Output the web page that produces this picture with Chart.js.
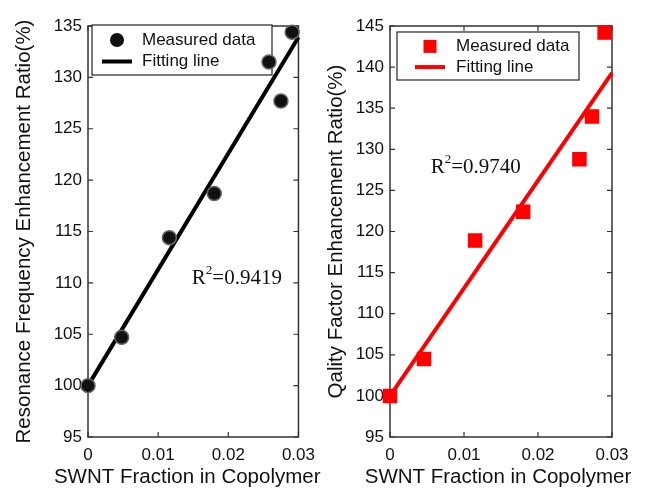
<!DOCTYPE html>
<html>
<head>
<meta charset="utf-8">
<script src="https://cdn.jsdelivr.net/npm/chart.js@4.4.0/dist/chart.umd.min.js"></script>
<style>
    html, body { margin: 0; padding: 0; background: #fff; width: 646px; height: 491px; overflow: hidden; }
    .panel { position: absolute; top: 0; width: 323px; height: 491px; }
    #left-panel { left: 0; }
    #right-panel { left: 323px; }
</style>
</head>
<body>
<div class="panel" id="left-panel"><canvas id="freqChart"></canvas></div>
<div class="panel" id="right-panel"><canvas id="qualityChart"></canvas></div>
<script>
// --- Data ---
const freqFraction = [0, 0.0048, 0.0116, 0.018, 0.0258, 0.0275, 0.0291];
const freqRatio = [100, 104.7, 114.4, 118.7, 131.5, 127.7, 134.4];
const qualityFraction = [0, 0.0046, 0.0115, 0.018, 0.0256, 0.0273, 0.029];
const qualityRatio = [100, 104.5, 118.9, 122.4, 128.8, 134.0, 144.2];
const fitFraction = [0, 0.03];
const freqFit = [100, 133.9];
const qualityFit = [100, 139.3];
const xTicks = [0, 0.01, 0.02, 0.03];
const freqTicks = [95, 100, 105, 110, 115, 120, 125, 130, 135];
const qualityTicks = [95, 100, 105, 110, 115, 120, 125, 130, 135, 140, 145];
const xTitle = 'SWNT Fraction in Copolymer';

const SANS = '"Liberation Sans", Arial, sans-serif';
const SERIF = '"Liberation Serif", "Times New Roman", serif';

const toPoints = (xs, ys) => xs.map((x, i) => ({ x: x, y: ys[i] }));

// box round the plot with inward ticks (matlab look), legend and R^2 note
const frameBox = {
    id: 'frameBox',
    beforeDatasetsDraw(chart, args, opts) {
        const { ctx, chartArea: a, scales } = chart;
        const len = 5;
        ctx.save();
        ctx.strokeStyle = '#333';
        ctx.lineWidth = 1.5;
        ctx.strokeRect(a.left, a.top, a.right - a.left, a.bottom - a.top);
        ctx.lineWidth = 1.2;
        ctx.beginPath();
        scales.y.ticks.forEach(t => {
            const py = scales.y.getPixelForValue(t.value);
            ctx.moveTo(a.left, py); ctx.lineTo(a.left + len, py);
            ctx.moveTo(a.right, py); ctx.lineTo(a.right - len, py);
        });
        scales.x.ticks.forEach(t => {
            const px = scales.x.getPixelForValue(t.value);
            ctx.moveTo(px, a.bottom); ctx.lineTo(px, a.bottom - len);
            ctx.moveTo(px, a.top); ctx.lineTo(px, a.top + len);
        });
        ctx.stroke();

        // x title drawn here: the scale title gets squeezed to the plot width
        ctx.fillStyle = '#111';
        ctx.textBaseline = 'middle';
        ctx.textAlign = 'center';
        ctx.font = '20.5px ' + SANS;
        ctx.fillText(opts.xTitle, (a.left + a.right) / 2 + opts.titleShift, 477);

        // R^2 note
        let x = scales.x.getPixelForValue(opts.noteX);
        const y = scales.y.getPixelForValue(opts.noteY);
        ctx.textAlign = 'left';
        ctx.font = '21px ' + SERIF;
        ctx.fillText('R', x, y);
        x += ctx.measureText('R').width;
        ctx.font = '13px ' + SERIF;
        ctx.fillText('2', x, y - 8);
        x += ctx.measureText('2').width;
        ctx.font = '21px ' + SERIF;
        ctx.fillText('=' + opts.r2, x, y);

        // legend box (points may overlap its edge, so drawn before datasets)
        const b = opts.legendBox;
        const left = a.left + b.dx, top = a.top + b.dy;
        ctx.fillStyle = '#fff';
        ctx.fillRect(left, top, b.w, b.h);
        ctx.strokeStyle = '#333';
        ctx.lineWidth = 1.3;
        ctx.strokeRect(left, top, b.w, b.h);
        const ds = chart.data.datasets;
        const row1 = top + b.h * 0.3, row2 = top + b.h * 0.73;
        const mx = left + b.markX;
        ctx.fillStyle = ds[0].backgroundColor;
        if (opts.marker === 'circle') {
            ctx.beginPath();
            ctx.arc(mx, row1, 7, 0, Math.PI * 2);
            ctx.fill();
        } else {
            ctx.fillRect(mx - 6.5, row1 - 6.5, 13, 13);
        }
        ctx.strokeStyle = ds[1].borderColor;
        ctx.lineWidth = 4;
        ctx.beginPath();
        ctx.moveTo(mx - 15, row2);
        ctx.lineTo(mx + 15, row2);
        ctx.stroke();
        ctx.fillStyle = '#111';
        ctx.font = '17px ' + SANS;
        ctx.fillText(ds[0].label, left + b.textX, row1);
        ctx.fillText(ds[1].label, left + b.textX, row2);
        ctx.restore();
    }
};

function makeChart(canvasId, cfg) {
    const ctx = document.getElementById(canvasId).getContext('2d');
    return new Chart(ctx, {
        type: 'scatter',
        data: {
            datasets: [
                {
                    label: 'Measured data',
                    data: toPoints(cfg.fraction, cfg.ratio),
                    pointStyle: cfg.marker,
                    pointRadius: cfg.pointRadius,
                    backgroundColor: cfg.markerColor,
                    borderColor: cfg.markerEdge,
                    borderWidth: 1.5,
                    clip: false
                },
                {
                    label: 'Fitting line',
                    data: toPoints(fitFraction, cfg.fit),
                    showLine: true,
                    pointRadius: 0,
                    borderColor: cfg.lineColor,
                    borderWidth: 4,
                    clip: false
                }
            ]
        },
        options: {
            responsive: true, maintainAspectRatio: false, animation: false,
            layout: { padding: { top: 26, right: cfg.padRight, left: 0, bottom: 0 } },
            scales: {
                x: {
                    type: 'linear', min: 0, max: 0.03,
                    afterBuildTicks: (s) => { s.ticks = xTicks.map(v => ({ value: v })); },
                    afterFit: (s) => { s.height = 54; },
                    grid: { display: false, drawTicks: false },
                    border: { display: false },
                    ticks: { color: '#111', padding: 8, font: { family: SANS, size: 17 }, callback: (v) => String(v) }
                },
                y: {
                    type: 'linear', min: cfg.yTicks[0], max: cfg.yTicks[cfg.yTicks.length - 1],
                    afterBuildTicks: (s) => { s.ticks = cfg.yTicks.map(v => ({ value: v })); },
                    afterFit: (s) => { s.width = cfg.yWidth; },
                    grid: { display: false, drawTicks: false },
                    border: { display: false },
                    ticks: { color: '#111', padding: 6, font: { family: SANS, size: 17 } },
                    title: { display: true, text: cfg.yTitle, color: '#111', font: { family: SANS, size: 20.5 }, padding: { top: cfg.titlePad, bottom: 0 } }
                }
            },
            plugins: {
                legend: { display: false },
                tooltip: { enabled: false },
                frameBox: cfg.frame
            }
        },
        plugins: [frameBox]
    });
}

makeChart('freqChart', {
    fraction: freqFraction, ratio: freqRatio, fit: freqFit, yTicks: freqTicks,
    yTitle: 'Resonance Frequency Enhancement Ratio(%)',
    marker: 'circle', pointRadius: 7, markerColor: '#111', markerEdge: '#666', lineColor: '#000',
    yWidth: 88, padRight: 15, titlePad: 12,
    frame: { xTitle: xTitle, titleShift: -6, noteX: 0.0148, noteY: 110.4, r2: '0.9419', marker: 'circle',
             legendBox: { dx: 4, dy: -1, w: 180, h: 50, markX: 25, textX: 50 } }
});

makeChart('qualityChart', {
    fraction: qualityFraction, ratio: qualityRatio, fit: qualityFit, yTicks: qualityTicks,
    yTitle: 'Qality Factor Enhancement Ratio(%)',
    marker: 'rect', pointRadius: 9.2, markerColor: '#f00', markerEdge: '#f00', lineColor: '#f00',
    yWidth: 67, padRight: 34, titlePad: 1,
    frame: { xTitle: xTitle, titleShift: -3, noteX: 0.0055, noteY: 127.8, r2: '0.9740', marker: 'rect',
             legendBox: { dx: 7, dy: 6, w: 182, h: 48, markX: 33, textX: 59 } }
});
</script>
</body>
</html>
